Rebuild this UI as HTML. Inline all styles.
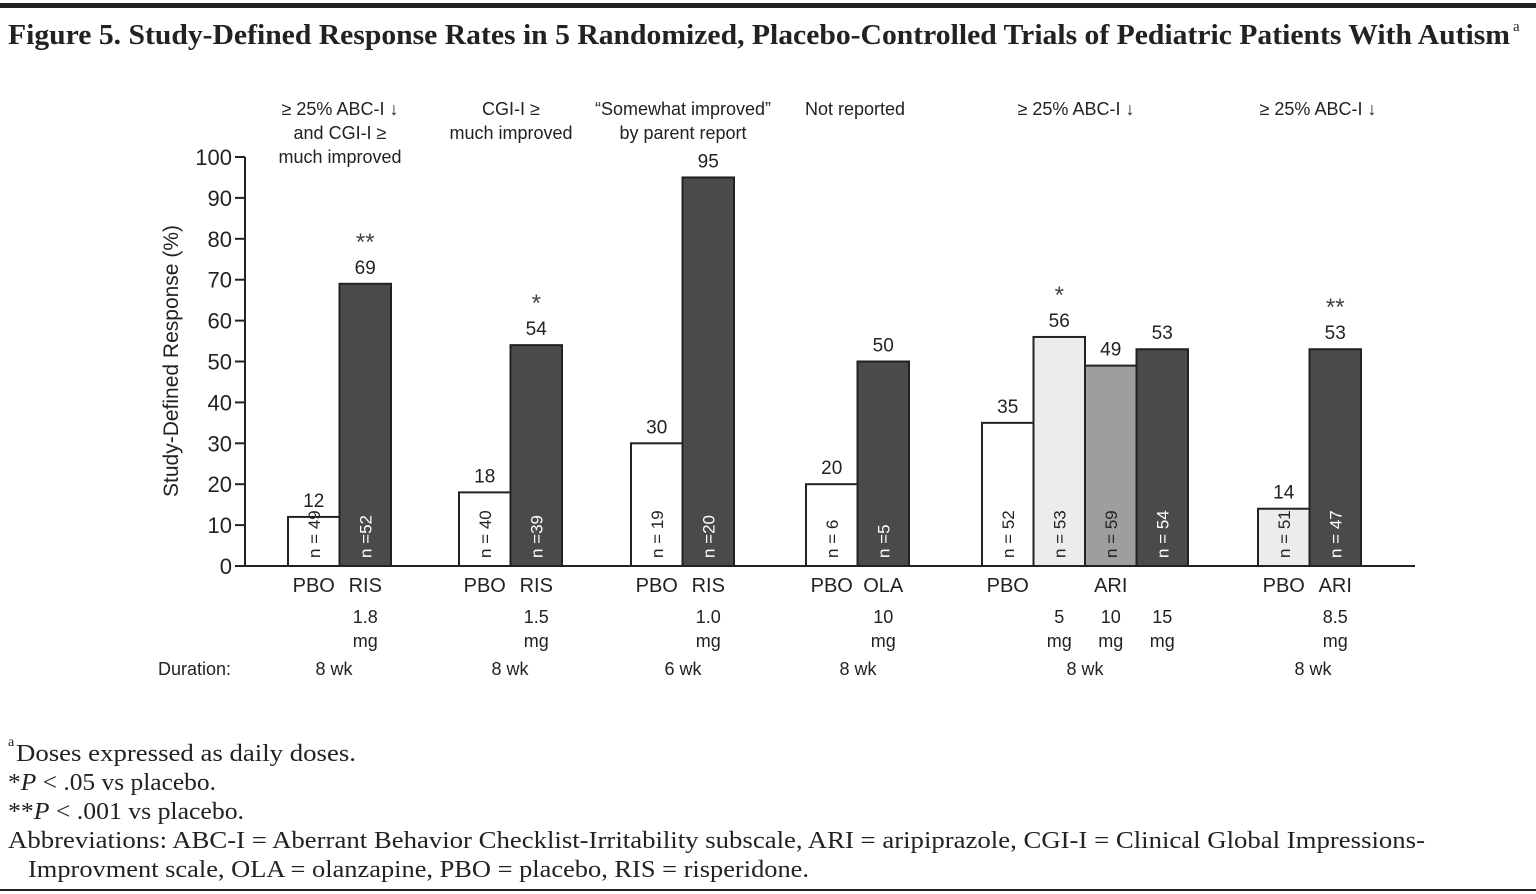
<!DOCTYPE html>
<html><head><meta charset="utf-8"><style>
body{margin:0;background:#fff;width:1536px;height:894px;overflow:hidden;position:relative;font-family:"Liberation Sans",sans-serif;}
#topbar{position:absolute;left:0;top:3px;width:1536px;height:5px;background:#222;}
#botline{position:absolute;left:0;top:889px;width:1536px;height:2px;background:#222;}
svg{position:absolute;left:0;top:0;}
.serif{font-family:"Liberation Serif",serif;}
</style></head><body>
<div id="topbar"></div>
<svg id="chart" width="1536" height="894">
<text class="serif" x="8" y="44" font-size="28" font-weight="bold" fill="#222" textLength="1502" lengthAdjust="spacingAndGlyphs">Figure 5. Study-Defined Response Rates in 5 Randomized, Placebo-Controlled Trials of Pediatric Patients With Autism</text>
<text class="serif" x="1513" y="31" font-size="15" fill="#222">a</text>
<g class="serif" font-size="24" fill="#222">
<text x="8" y="746" font-size="14">a</text>
<text x="16" y="761" textLength="340" lengthAdjust="spacingAndGlyphs">Doses expressed as daily doses.</text>
<text x="8" y="790" textLength="208" lengthAdjust="spacingAndGlyphs">*<tspan font-style="italic">P</tspan> &lt; .05 vs placebo.</text>
<text x="8" y="819" textLength="236" lengthAdjust="spacingAndGlyphs">**<tspan font-style="italic">P</tspan> &lt; .001 vs placebo.</text>
<text x="8" y="848" textLength="1417" lengthAdjust="spacingAndGlyphs">Abbreviations: ABC-I = Aberrant Behavior Checklist-Irritability subscale, ARI = aripiprazole, CGI-I = Clinical Global Impressions-</text>
<text x="28" y="877" textLength="781" lengthAdjust="spacingAndGlyphs">Improvment scale, OLA = olanzapine, PBO = placebo, RIS = risperidone.</text>
</g>
</svg>
<div id="botline"></div>
<script>
const values=[12,69,18,54,30,95,20,50,35,56,49,53,14,53];
const nLabels=["n = 49","n =52","n = 40","n =39","n = 19","n =20","n = 6","n =5","n = 52","n = 53","n = 59","n = 54","n = 51","n = 47"];
const stars=["","**","","*","","","","","","*","","","","**"];
const barGroup=[0,0,1,1,2,2,3,3,4,4,4,4,5,5];
const barSlot=[0,1,0,1,0,1,0,1,0,1,2,3,0,1];
const barShade=["w","d","w","d","w","d","w","d","w","l","m","d","l","d"];
const drugLabels=["PBO","RIS","PBO","RIS","PBO","RIS","PBO","OLA","PBO","","ARI","","PBO","ARI"];
const doseLabels=["","1.8|mg","","1.5|mg","","1.0|mg","","10|mg","","5|mg","10|mg","15|mg","","8.5|mg"];
const groupHeaders=[["≥ 25% ABC-I ↓","and CGI-I ≥","much improved"],["CGI-I ≥","much improved"],["“Somewhat improved”","by parent report"],["Not reported"],["≥ 25% ABC-I ↓"],["≥ 25% ABC-I ↓"]];
const durations=["8 wk","8 wk","6 wk","8 wk","8 wk","8 wk"];
const yTicks=[0,10,20,30,40,50,60,70,80,90,100];

const groupLeft=[288,459,631,806,982,1258], BW=51.5;
const y0=566,y100=157;
const y=v=>y0-(y0-y100)*v/100;
const bx=i=>groupLeft[barGroup[i]]+barSlot[i]*BW;
const fills={w:"#fff",d:"#4a4a4a",l:"#ececec",m:"#9e9e9e"};
const svg=document.getElementById('chart');const NS="http://www.w3.org/2000/svg";
function mk(t,a,txt){const e=document.createElementNS(NS,t);for(const k in a)e.setAttribute(k,a[k]);if(txt!==undefined)e.textContent=txt;svg.appendChild(e);return e;}
let e=mk('line',{x1:245,y1:y100,x2:245,y2:y0,stroke:"#222","stroke-width":2});

e=mk('line',{x1:244,y1:y0,x2:1415,y2:y0,stroke:"#222","stroke-width":2});

yTicks.forEach(t=>{
 let l=mk('line',{x1:235,y1:y(t),x2:245,y2:y(t),stroke:"#222","stroke-width":2});
 
 let tx=mk('text',{x:232,y:y(t)+8,"text-anchor":"end","font-size":22,fill:"#222"},t);
 
});
e=mk('text',{x:0,y:0,transform:"translate(178,361) rotate(-90)","text-anchor":"middle","font-size":21,fill:"#222"},"Study-Defined Response (%)");

values.forEach((v,i)=>{
 const x=bx(i),sh=barShade[i];
 let r=mk('rect',{x:x,y:y(v),width:BW,height:y0-y(v),fill:fills[sh],stroke:"#222","stroke-width":2});
 
 let t=mk('text',{x:x+BW/2,y:y(v)-10,"text-anchor":"middle","font-size":19,fill:"#222"},v);
 
 if(stars[i]){let s=mk('text',{x:x+BW/2,y:y(v)-34,"text-anchor":"middle","font-size":24,fill:"#444"},stars[i]);
  }
 let n=mk('text',{x:0,y:0,transform:`translate(${x+BW/2+6},${y0-8}) rotate(-90)`,"font-size":17,fill:(sh==='d'?"#fff":"#222")},nLabels[i]);
 
 if(drugLabels[i]){let d=mk('text',{x:x+BW/2,y:592,"text-anchor":"middle","font-size":20,fill:"#222"},drugLabels[i]);
  }
 if(doseLabels[i]){doseLabels[i].split('|').forEach((s,k)=>{let d=mk('text',{x:x+BW/2,y:623+k*24,"text-anchor":"middle","font-size":18,fill:"#222"},s);
  });}
});
const groupCenter=[340,511,683,855,1076,1318];
groupHeaders.forEach((h,g)=>{h.forEach((s,k)=>{let t=mk('text',{x:groupCenter[g],y:115+k*24,"text-anchor":"middle","font-size":18,fill:"#222"},s);
 });
 let d=mk('text',{x:[334,510,683,858,1085,1313][g],y:675,"text-anchor":"middle","font-size":18,fill:"#222"},durations[g]);
 });
e=mk('text',{x:158,y:675,"font-size":18,fill:"#222"},"Duration:");

</script>
</body></html>
